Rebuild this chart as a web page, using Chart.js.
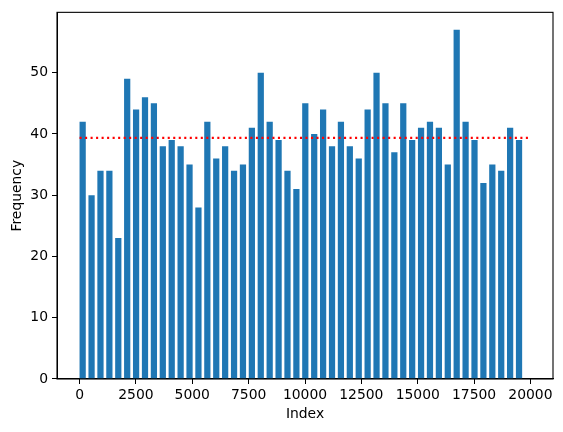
<!DOCTYPE html>
<html>
<head>
<meta charset="utf-8">
<script src="https://cdn.jsdelivr.net/npm/chart.js@4/dist/chart.umd.min.js"></script>
<style>
  html, body { margin: 0; padding: 0; background: #fff; }
  #wrap { width: 563px; height: 432px; }
</style>
</head>
<body>
<div id="wrap"><canvas id="myChart" width="563" height="432"></canvas></div>
<script>
const binWidth = 395;
const counts = [42, 30, 34, 34, 23, 49, 44, 46, 45, 38,
                39, 38, 35, 28, 42, 36, 38, 34, 35, 41,
                50, 42, 39, 34, 31, 45, 40, 44, 38, 42,
                38, 36, 44, 50, 45, 37, 45, 39, 41, 42,
                41, 35, 57, 42, 39, 32, 35, 34, 41, 39];
const meanValue = 39.36;
const meanRange = [0, 20000];
const xTicks = [0, 2500, 5000, 7500, 10000, 12500, 15000, 17500, 20000];
const yTicks = [0, 10, 20, 30, 40, 50];
const barFrac = 0.7;

document.addEventListener('DOMContentLoaded', () => {
    Chart.defaults.font.family = "'DejaVu Sans', sans-serif";
    Chart.defaults.font.size = 13.9;
    Chart.defaults.color = '#000';

    // bars are left-aligned on the bin start, like matplotlib align='edge'
    const barPoints = counts.map((c, i) => ({ x: i * binWidth + barFrac * binWidth / 2, y: c }));
    const meanPoints = meanRange.map(x => ({ x: x, y: meanValue }));

    const frame = {
        id: 'frame',
        afterDraw(chart) {
            const { ctx, chartArea: a } = chart;
            ctx.save();
            ctx.strokeStyle = '#000';
            ctx.lineWidth = 1.1;
            ctx.strokeRect(a.left, a.top, a.right - a.left, a.bottom - a.top);
            ctx.restore();
        }
    };

    new Chart('myChart', {
        data: {
            datasets: [{
                type: 'bar',
                data: barPoints,
                backgroundColor: '#1f77b4',
                borderWidth: 0,
                borderColor: '#1f77b4',
                inflateAmount: 0,
                categoryPercentage: 1,
                barPercentage: barFrac,
                order: 2,
            }, {
                type: 'line',
                data: meanPoints,
                borderColor: '#ff0000',
                borderWidth: 2.08,
                borderDash: [2.08, 3.43],
                pointRadius: 0,
                fill: false,
                order: 1,
            }],
        },
        options: {
            responsive: false,
            animation: false,
            devicePixelRatio: 1,
            layout: { padding: { top: 9, right: 10, left: 0, bottom: 0 } },
            plugins: {
                legend: { display: false },
                tooltip: { enabled: false },
            },
            scales: {
                x: {
                    type: 'linear',
                    min: -1000,
                    max: 21000,
                    offset: false,
                    afterBuildTicks: s => { s.ticks = xTicks.map(v => ({ value: v })); },
                    afterFit: s => { s.height = 53; },
                    grid: { display: true, offset: false, drawOnChartArea: false, drawTicks: true, tickLength: 5, color: '#000', lineWidth: 1 },
                    border: { display: true, color: '#000', width: 1 },
                    ticks: { padding: 3.5, maxRotation: 0, autoSkip: false, callback: v => String(v) },
                    title: { display: true, text: 'Index', padding: { top: 0, bottom: 9 } },
                },
                y: {
                    min: 0,
                    max: 59.85,
                    afterBuildTicks: s => { s.ticks = yTicks.map(v => ({ value: v })); },
                    afterFit: s => { s.width = 57; },
                    grid: { display: true, drawOnChartArea: false, drawTicks: true, tickLength: 5, color: '#000', lineWidth: 1 },
                    border: { display: true, color: '#000', width: 1 },
                    ticks: { padding: 4, callback: v => String(v) },
                    title: { display: true, text: 'Frequency', padding: { top: 9, bottom: 0 } },
                },
            },
        },
        plugins: [frame],
    });
});
</script>
</body>
</html>
